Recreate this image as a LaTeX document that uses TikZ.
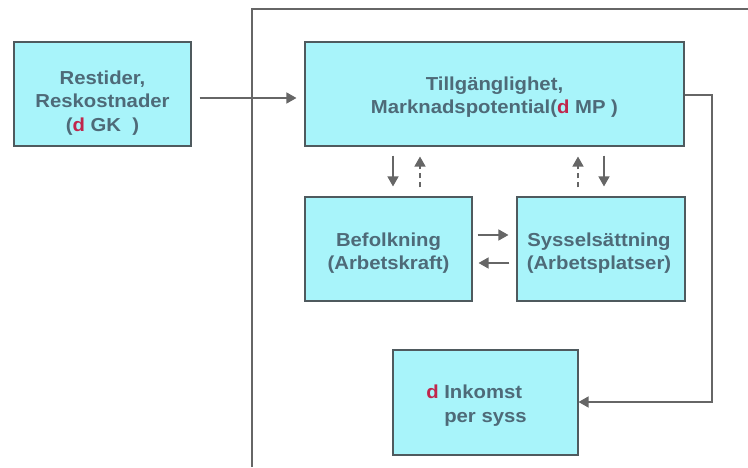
\documentclass[tikz,border=0pt]{standalone}
\usepackage{fontspec}
\setmainfont{Liberation Sans}[FakeStretch=1.08]
\usetikzlibrary{arrows.meta}
\definecolor{boxfill}{HTML}{A8F4FA}
\definecolor{boxline}{HTML}{4F5A5E}
\definecolor{txt}{HTML}{4E6A78}
\definecolor{dred}{HTML}{C0264C}
\definecolor{arr}{HTML}{666666}
\begin{document}
\begin{tikzpicture}[x=1pt,y=-1pt,
  box/.style={draw=boxline,fill=boxfill,line width=1.1pt,rectangle,inner sep=0pt},
  lbl/.style={text=txt,font=\fontsize{18.8}{23.5}\selectfont\bfseries,align=center,inner sep=0pt},
  conn/.style={draw=arr,line width=1.4pt,-{Triangle[length=10pt,width=11pt]}},
  dconn/.style={conn,dash pattern=on 5pt off 4pt}]
\useasboundingbox (0,0) rectangle (748,467);
\fill[white] (0,0) rectangle (748,467);
% frame
\coordinate (fbl) at (252,467);
\coordinate (ftl) at (252,9);
\coordinate (ftr) at (748,9);
\draw[arr,line width=1.3pt] (fbl) -- (ftl) -- (ftr);
% boxes
\node[box,minimum width=177pt,minimum height=104pt] (res) at (102.5,94) {};
\node[box,minimum width=379pt,minimum height=104pt] (til) at (494.5,94) {};
\node[box,minimum width=167pt,minimum height=104pt] (bef) at (388.5,249) {};
\node[box,minimum width=168pt,minimum height=104pt] (sys) at (601,249) {};
\node[box,minimum width=185pt,minimum height=105pt] (ink) at (485.5,402.5) {};
% texts
\node[lbl] (res-t) at ([yshift=-9pt]res.center)
  {Restider,\\Reskostnader\\({\color{dred}d} GK\ \ )};
\node[lbl] (til-t) at ([yshift=-3pt]til.center)
  {Tillgänglighet,\\Marknadspotential({\color{dred}d} MP )};
\node[lbl] (bef-t) at ([yshift=-4pt]bef.center) {Befolkning\\(Arbetskraft)};
\node[lbl] (sys-t) at ([yshift=-4pt,xshift=-2pt]sys.center) {Sysselsättning\\(Arbetsplatser)};
\node[lbl,align=left] (ink-t) at ([yshift=-3pt]ink.center)
  {\llap{\color{dred}d\ }Inkomst\\per syss};
% connectors
\draw[conn] ([xshift=8pt,yshift=-4pt]res.east) -- ([xshift=-8pt,yshift=-4pt]til.west);
\draw[conn,shorten <=9pt,shorten >=10pt] (til.south -| 393,0) -- (bef.north -| 393,0);
\draw[dconn,shorten <=9pt,shorten >=10pt] (bef.north -| 420,0) -- (til.south -| 420,0);
\draw[dconn,shorten <=9pt,shorten >=10pt] (sys.north -| 578,0) -- (til.south -| 578,0);
\draw[conn,shorten <=9pt,shorten >=10pt] (til.south -| 604,0) -- (sys.north -| 604,0);
\draw[conn] ([xshift=5pt,yshift=14pt]bef.east) -- ([xshift=-8pt,yshift=14pt]sys.west);
\draw[conn] ([xshift=-7pt,yshift=-14pt]sys.west) -- ([xshift=6pt,yshift=-14pt]bef.east);
\coordinate (rc1) at (712,95);
\coordinate (rc2) at (712,402);
\draw[conn] (til.east |- rc1) -- (rc1) -- (rc2) -- (ink.east |- rc2);
\end{tikzpicture}
\end{document}
